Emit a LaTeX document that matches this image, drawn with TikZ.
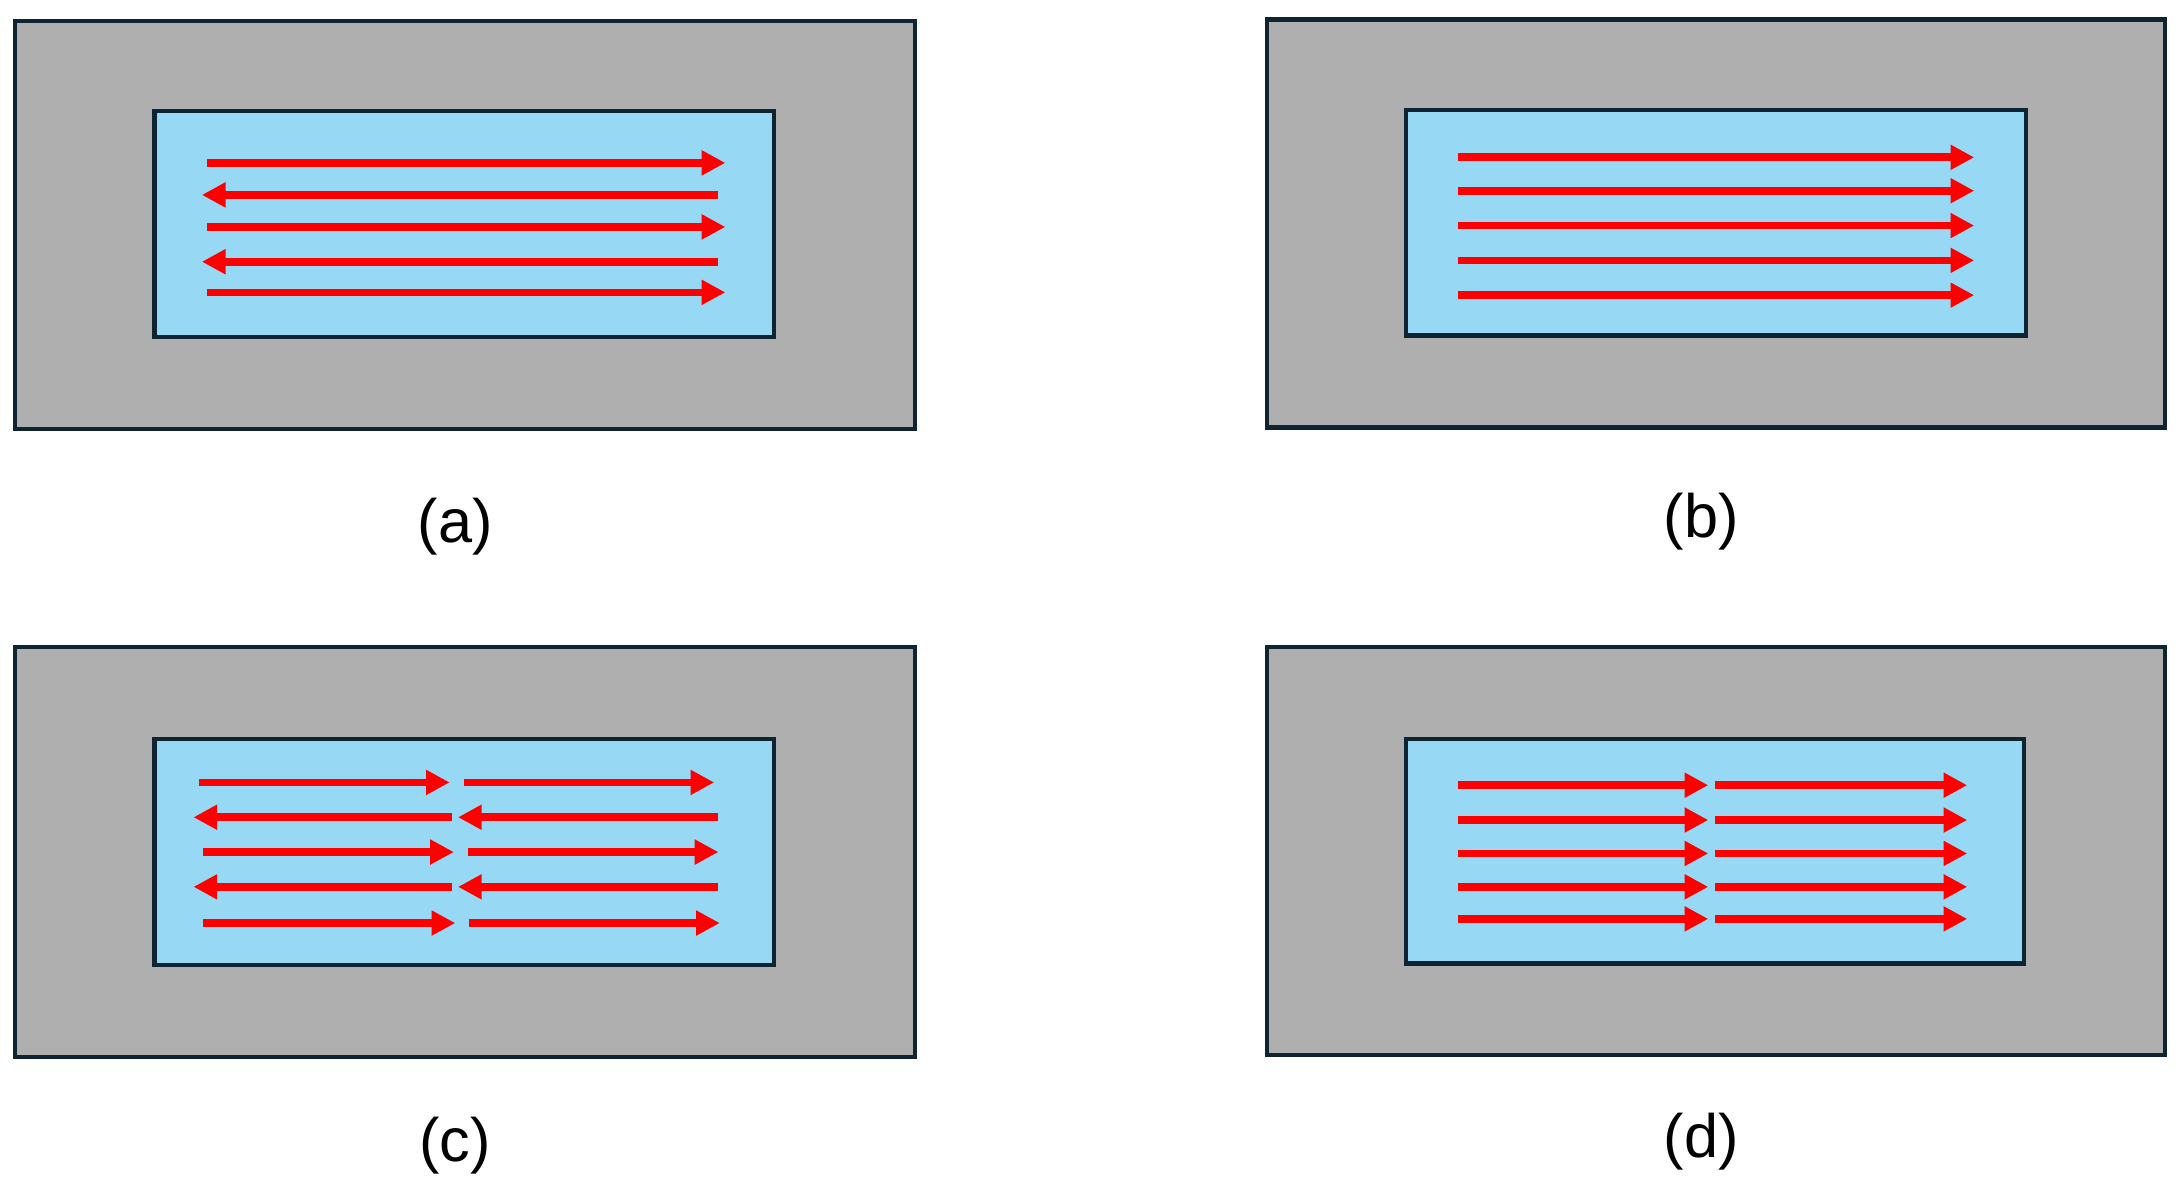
\documentclass[tikz,border=0pt]{standalone}
\usepackage{fontspec}
\setmainfont{Liberation Sans}
\usetikzlibrary{arrows.meta}
\definecolor{gr}{HTML}{AFAFAF}
\definecolor{bl}{HTML}{97D9F5}
\definecolor{bd}{HTML}{0E2430}
\tikzset{
 outer/.style={draw=bd,fill=gr,line width=3pt},
 inner/.style={draw=bd,fill=bl,line width=3pt},
 ar/.style={draw=red,line width=5.5pt,-{Triangle[length=17pt,width=17pt]}},
 lab/.style={font=\fontsize{44}{50}\selectfont}
}
\begin{document}
\begin{tikzpicture}[x=1pt,y=-1pt]
\useasboundingbox (0,0) rectangle (1568,859);
% (a)
\draw[outer] (11,15) rectangle (657,308);
\draw[inner] (111,80) rectangle (556,242);
\foreach \y in {117,163,210} \draw[ar] (149,\y) -- (521,\y);
\foreach \y in {140,188} \draw[ar] (516,\y) -- (145,\y);
\node[lab] (la) at (327,378) {(a)};
% (b)
\draw[outer] (910,14) rectangle (1555,307);
\draw[inner] (1010,79) rectangle (1455,241);
\foreach \y in {113,137,162,187,212} \draw[ar] (1047,\y) -- (1418,\y);
\node[lab] (lb) at (1222,375) {(b)};
% (c)
\draw[outer] (11,465) rectangle (657,759);
\draw[inner] (111,531) rectangle (556,693);
\draw[ar] (143,562) -- (323,562); \draw[ar] (333,562) -- (513,562);
\draw[ar] (325,587) -- (139,587); \draw[ar] (516,587) -- (329,587);
\draw[ar] (146,612) -- (326,612); \draw[ar] (336,612) -- (516,612);
\draw[ar] (325,637) -- (139,637); \draw[ar] (516,637) -- (329,637);
\draw[ar] (146,663) -- (327,663); \draw[ar] (337,663) -- (517,663);
\node[lab] (lc) at (327,823) {(c)};
% (d)
\draw[outer] (910,465) rectangle (1555,758);
\draw[inner] (1010,531) rectangle (1454,692);
\foreach \y in {564,589,613,637,660} {\draw[ar] (1047,\y) -- (1227,\y); \draw[ar] (1232,\y) -- (1413,\y);}
\node[lab] (ld) at (1222,820) {(d)};
\end{tikzpicture}
\end{document}
